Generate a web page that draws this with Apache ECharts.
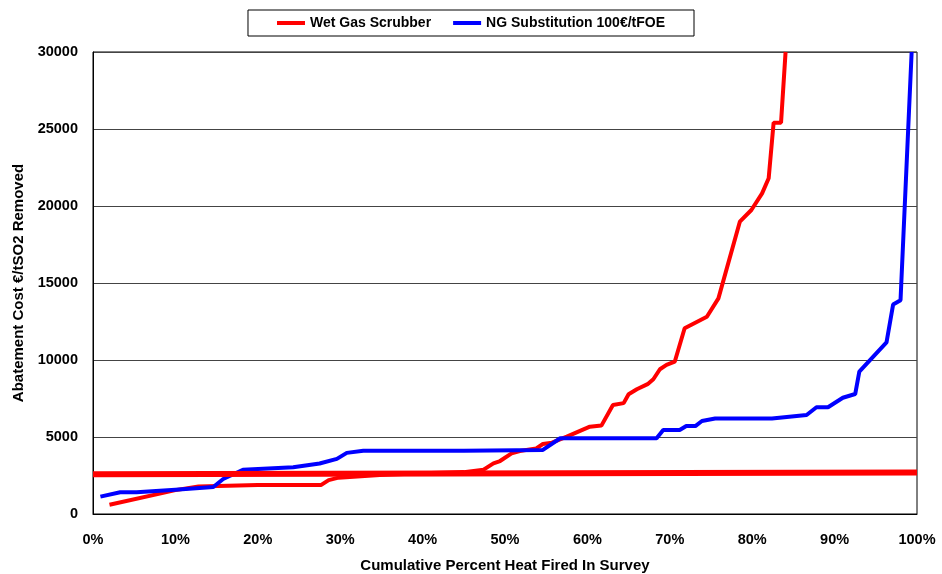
<!DOCTYPE html>
<html>
<head>
<meta charset="utf-8">
<title>Abatement Cost</title>
<script src="https://cdn.jsdelivr.net/npm/echarts@6/dist/echarts.min.js"></script>
<style>
  html, body { margin: 0; padding: 0; background: #fff; }
  #chart { width: 942px; height: 574px; }
</style>
</head>
<body>
<div id="chart"></div>
<script>
// Wet Gas Scrubber (x = cumulative % heat fired, y = €/tSO2)
const scrubberX = [2.0, 10.0, 12.8, 20.0, 27.7, 28.6, 29.8, 34.8, 40.0, 45.0, 47.4, 48.6, 49.4, 50.8, 51.8, 53.8, 54.6, 55.7, 57.5, 60.3, 61.7, 63.1, 64.4, 65.0, 66.0, 67.3, 68.0, 68.8, 69.6, 70.6, 71.8, 74.5, 75.9, 78.5, 79.9, 81.2, 82.0, 82.6, 83.5, 84.05];
const scrubberY = [600, 1550, 1780, 1880, 1890, 2200, 2360, 2530, 2640, 2720, 2880, 3290, 3440, 3940, 4090, 4260, 4545, 4630, 5020, 5670, 5740, 7080, 7200, 7780, 8100, 8430, 8750, 9400, 9680, 9890, 12060, 12810, 14000, 18980, 19740, 20820, 21800, 25410, 25410, 30000];

// NG Substitution 100€/tFOE
const ngX = [0.9, 3.3, 5.3, 10.0, 14.6, 15.8, 18.2, 24.3, 27.5, 29.6, 30.8, 32.8, 45.0, 54.6, 56.7, 68.4, 69.2, 71.2, 72.0, 73.1, 73.9, 75.5, 82.4, 86.6, 87.8, 89.2, 91.0, 92.5, 93.0, 96.3, 97.1, 98.0, 99.35];
const ngY = [1130, 1410, 1410, 1580, 1750, 2270, 2870, 3040, 3280, 3580, 3970, 4100, 4110, 4160, 4920, 4920, 5450, 5450, 5710, 5710, 6040, 6200, 6200, 6430, 6930, 6930, 7550, 7790, 9240, 11150, 13600, 13880, 30000];

// thick reference line
const refX = [0, 100];
const refY = [2580, 2690];

const xTicks = { min: 0, max: 100, interval: 10 };
const yTicks = { min: 0, max: 30000, interval: 5000 };

const zip = (xs, ys) => xs.map((x, i) => [x, ys[i]]);

const font = "'Liberation Sans', Arial, sans-serif";

const chart = echarts.init(document.getElementById('chart'));
chart.setOption({
  animation: false,
  textStyle: { fontFamily: font },
  legend: {
    data: ['Wet Gas Scrubber', 'NG Substitution 100€/tFOE'],
    top: 10,
    left: 'center',
    padding: [6, 29, 6, 29],
    borderColor: '#000',
    borderWidth: 1,
    icon: 'rect',
    itemWidth: 28,
    itemHeight: 4,
    itemGap: 22,
    textStyle: { fontFamily: font, fontSize: 14, fontWeight: 'bold', color: '#000' }
  },
  grid: {
    left: 93, right: 25, top: 52, bottom: 60,
    outerBoundsMode: 'none',
    containLabel: false,
    show: true, borderColor: '#000', borderWidth: 1
  },
  xAxis: {
    type: 'value',
    min: xTicks.min, max: xTicks.max, interval: xTicks.interval,
    name: 'Cumulative Percent Heat Fired In Survey',
    nameLocation: 'middle',
    nameGap: 44,
    nameTextStyle: { fontFamily: font, fontSize: 15, fontWeight: 'bold', color: '#000' },
    axisLine: { lineStyle: { color: '#000', width: 1 } },
    axisTick: { show: false },
    splitLine: { show: false },
    axisLabel: {
      formatter: '{value}%', margin: 18,
      fontFamily: font, fontSize: 14.5, fontWeight: 'bold', color: '#000'
    }
  },
  yAxis: {
    type: 'value',
    min: yTicks.min, max: yTicks.max, interval: yTicks.interval,
    name: 'Abatement Cost €/tSO2 Removed',
    nameLocation: 'middle',
    nameGap: 64,
    nameTextStyle: { fontFamily: font, fontSize: 15, fontWeight: 'bold', color: '#000' },
    axisLine: { show: true, lineStyle: { color: '#000', width: 1 } },
    axisTick: { show: false },
    splitLine: { lineStyle: { color: '#444', width: 1 } },
    axisLabel: {
      margin: 15,
      formatter: (v) => String(v),
      fontFamily: font, fontSize: 14.5, fontWeight: 'bold', color: '#000'
    }
  },
  series: [
    {
      name: 'Wet Gas Scrubber',
      type: 'line',
      data: zip(scrubberX, scrubberY),
      showSymbol: false,
      color: '#ff0000',
      lineStyle: { color: '#ff0000', width: 4 }
    },
    {
      name: 'NG Substitution 100€/tFOE',
      type: 'line',
      data: zip(ngX, ngY),
      showSymbol: false,
      color: '#0000ff',
      lineStyle: { color: '#0000ff', width: 4 }
    },
    {
      name: 'ref',
      type: 'line',
      data: zip(refX, refY),
      showSymbol: false,
      silent: true,
      color: '#ff0000',
      lineStyle: { color: '#ff0000', width: 6 }
    }
  ]
});
</script>
</body>
</html>
